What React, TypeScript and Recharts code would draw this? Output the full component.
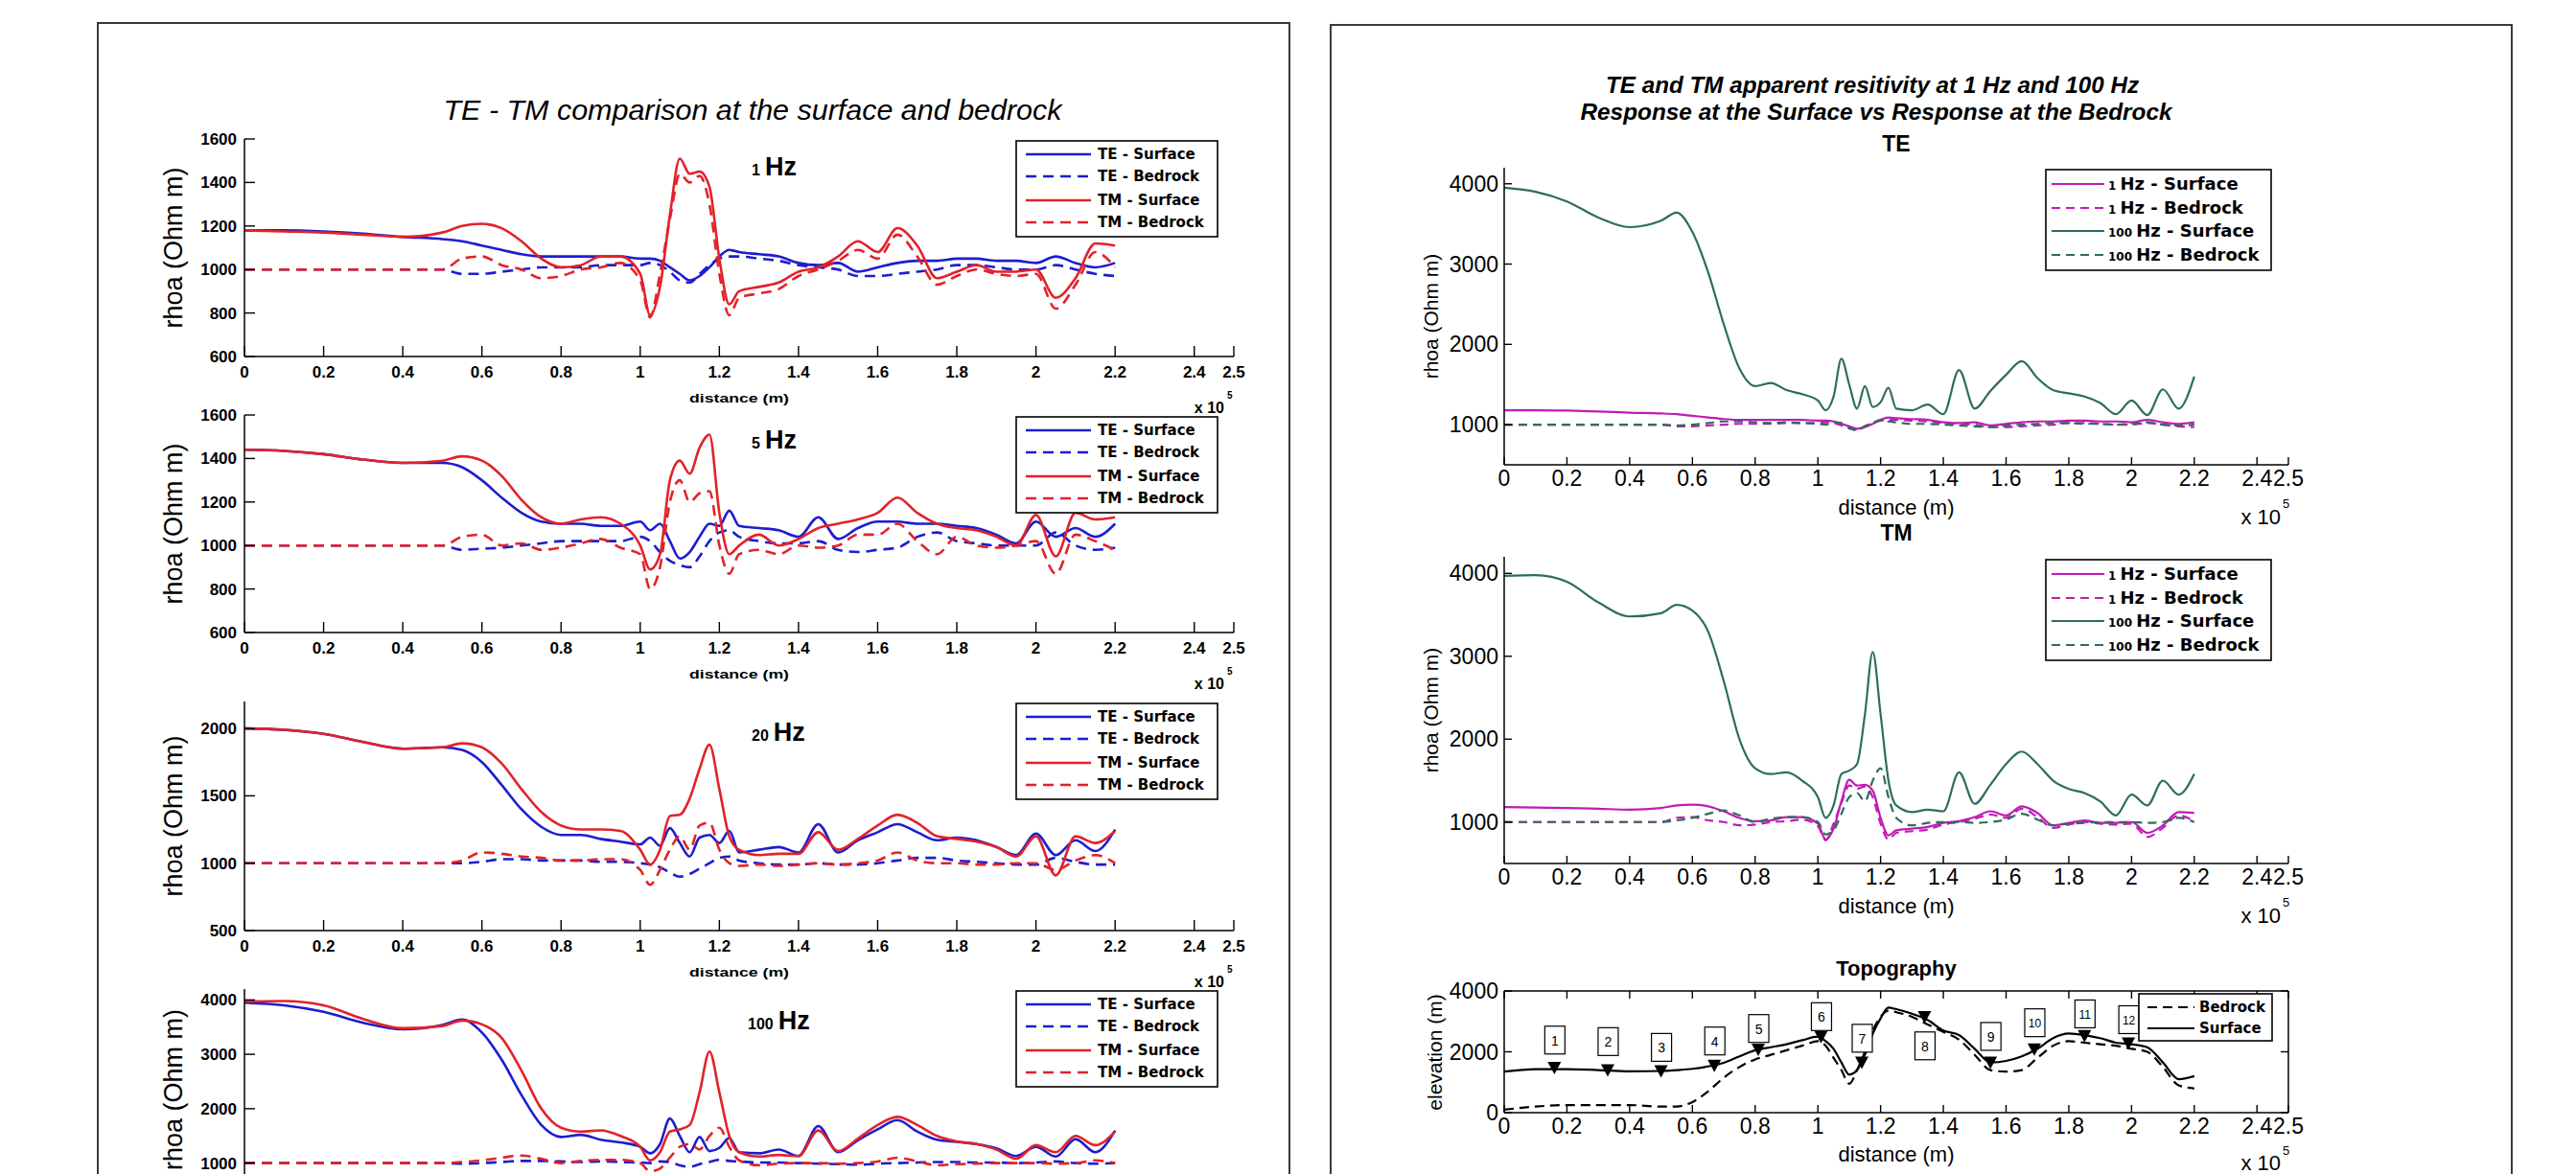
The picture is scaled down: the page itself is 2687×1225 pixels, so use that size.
import React from "react";
import { ComposedChart, Line, XAxis, YAxis, Scatter } from "recharts";

// distance along profile, in units of 1e5 m
const distance = [0, 0.1, 0.2, 0.3, 0.4, 0.5, 0.55, 0.6, 0.65, 0.7, 0.75, 0.8, 0.85, 0.9, 0.95, 1.0, 1.025, 1.05, 1.075, 1.1, 1.125, 1.15, 1.175, 1.2, 1.225, 1.25, 1.3, 1.35, 1.4, 1.45, 1.5, 1.55, 1.6, 1.65, 1.7, 1.75, 1.8, 1.85, 1.9, 1.95, 2.0, 2.05, 2.1, 2.15, 2.2];

// 1 Hz
const teSurf1 = [1180, 1180, 1175, 1165, 1150, 1140, 1130, 1110, 1090, 1070, 1060, 1060, 1060, 1060, 1060, 1050, 1050, 1040, 1010, 980, 950, 970, 1010, 1060, 1090, 1080, 1070, 1060, 1030, 1020, 1030, 990, 1010, 1030, 1040, 1040, 1050, 1050, 1040, 1040, 1030, 1060, 1030, 1010, 1030];
const teBed1 = [1000, 1000, 1000, 1000, 1000, 1000, 980, 980, 990, 1000, 1010, 1010, 1010, 1020, 1020, 1020, 1030, 1020, 990, 950, 940, 980, 1020, 1050, 1060, 1060, 1050, 1040, 1020, 1010, 1000, 970, 970, 980, 990, 1000, 1020, 1020, 1010, 1000, 1000, 1020, 1000, 980, 970];
const tmSurf1 = [1180, 1175, 1170, 1160, 1150, 1170, 1200, 1210, 1190, 1130, 1050, 1010, 1020, 1060, 1060, 980, 790, 920, 1250, 1510, 1440, 1450, 1380, 1050, 840, 900, 920, 940, 990, 1010, 1060, 1130, 1080, 1190, 1110, 960, 990, 1020, 990, 990, 1000, 870, 960, 1120, 1110];
const tmBed1 = [1000, 1000, 1000, 1000, 1000, 1000, 1050, 1060, 1020, 1000, 960, 970, 1000, 1010, 1030, 950, 780, 980, 1230, 1440, 1400, 1430, 1300, 980, 790, 870, 890, 910, 970, 1000, 1040, 1090, 1050, 1160, 1060, 930, 970, 1000, 980, 970, 980, 820, 930, 1080, 1010];

// 5 Hz
const teSurf5 = [1440, 1435, 1420, 1395, 1380, 1380, 1360, 1300, 1220, 1150, 1110, 1100, 1100, 1090, 1090, 1110, 1070, 1100, 1020, 940, 970, 1040, 1100, 1090, 1160, 1090, 1080, 1070, 1040, 1130, 1030, 1080, 1110, 1110, 1100, 1100, 1090, 1080, 1050, 1010, 1110, 1040, 1080, 1040, 1100];
const teBed5 = [1000, 1000, 1000, 1000, 1000, 1000, 980, 985, 990, 1000, 1010, 1020, 1020, 1020, 1020, 1040, 1020, 970, 930, 910, 900, 950, 1020, 1060, 1070, 1040, 1020, 1010, 1010, 1020, 980, 970, 980, 990, 1040, 1060, 1020, 1010, 1000, 1000, 1000, 1060, 1000, 980, 990];
const tmSurf5 = [1440, 1435, 1420, 1395, 1380, 1390, 1410, 1390, 1320, 1210, 1130, 1100, 1120, 1130, 1100, 1000, 890, 960, 1300, 1390, 1330, 1450, 1510, 1150, 960, 1000, 1050, 1000, 1030, 1080, 1100, 1120, 1150, 1220, 1150, 1100, 1080, 1070, 1040, 1000, 1140, 950, 1150, 1120, 1130];
const tmBed5 = [1000, 1000, 1000, 1000, 1000, 1000, 1040, 1050, 1000, 1010, 980, 990, 1010, 1030, 990, 960, 800, 900, 1200, 1300, 1200, 1240, 1250, 1000, 870, 960, 980, 960, 1000, 990, 1000, 1050, 1050, 1100, 1020, 960, 1040, 1000, 990, 1000, 1020, 870, 1050, 1020, 980];

// 20 Hz
const teSurf20 = [2000, 1990, 1960, 1900, 1850, 1860, 1840, 1750, 1580, 1400, 1270, 1210, 1210, 1180, 1160, 1140, 1190, 1130, 1260, 1150, 1050, 1190, 1210, 1150, 1240, 1080, 1100, 1120, 1080, 1290, 1080, 1170, 1230, 1290, 1230, 1170, 1190, 1170, 1120, 1060, 1220, 1060, 1170, 1090, 1250];
const teBed20 = [1000, 1000, 1000, 1000, 1000, 1000, 1000, 1010, 1030, 1030, 1020, 1020, 1020, 1010, 1010, 1000, 990, 970, 930, 900, 920, 960, 1000, 1040, 1050, 1020, 1000, 990, 990, 1000, 990, 990, 1000, 1020, 1040, 1040, 1020, 1010, 1000, 990, 990, 1040, 1010, 990, 990];
const tmSurf20 = [2000, 1990, 1960, 1900, 1850, 1860, 1890, 1860, 1740, 1550, 1380, 1280, 1250, 1250, 1240, 1100, 990, 1100, 1350, 1360, 1480, 1700, 1880, 1550, 1200, 1100, 1060, 1070, 1070, 1230, 1100, 1180, 1280, 1360, 1300, 1200, 1180, 1160, 1120, 1050, 1200, 910, 1200, 1150, 1240];
const tmBed20 = [1000, 1000, 1000, 1000, 1000, 1000, 1020, 1080, 1070, 1050, 1040, 1020, 1020, 1030, 1030, 950, 840, 950, 1100, 1200, 1100, 1280, 1300, 1100, 1000, 980, 990, 980, 990, 1000, 990, 1000, 1020, 1080, 1020, 1000, 1000, 990, 990, 1000, 1000, 950, 1020, 1060, 1000];

// 100 Hz
const teSurf100 = [3950, 3900, 3780, 3580, 3460, 3540, 3640, 3400, 2900, 2250, 1700, 1480, 1520, 1430, 1380, 1300, 1180, 1350, 1820, 1500, 1200, 1480, 1220, 1280, 1460, 1200, 1180, 1250, 1130, 1680, 1200, 1420, 1620, 1790, 1580, 1430, 1390, 1350, 1270, 1130, 1300, 1120, 1440, 1200, 1600];
const teBed100 = [1000, 1000, 1000, 1000, 1000, 1000, 990, 1000, 1020, 1040, 1040, 1030, 1020, 1030, 1020, 1010, 1000, 1030, 1020, 960, 930, 980, 1020, 1060, 1040, 1030, 1010, 1010, 1000, 990, 980, 970, 990, 1000, 1010, 1020, 1020, 1010, 1010, 1000, 1010, 1030, 1000, 990, 1000];
const tmSurf100 = [3970, 3980, 3900, 3650, 3480, 3520, 3620, 3550, 3300, 2700, 2000, 1650, 1580, 1600, 1500, 1300, 1050, 1200, 1580, 1620, 1700, 2300, 3050, 2300, 1500, 1200, 1120, 1150, 1130, 1600, 1220, 1450, 1700, 1850, 1700, 1500, 1400, 1350, 1250, 1080, 1330, 1200, 1500, 1330, 1580];
const tmBed100 = [1000, 1000, 1000, 1000, 1000, 1000, 1020, 1050, 1100, 1140, 1080, 1000, 1040, 1060, 1060, 1000, 850, 900, 1100, 1300, 1350, 1250, 1500, 1650, 1300, 1050, 960, 990, 1000, 1000, 990, 1000, 1030, 1100, 1030, 960, 980, 990, 1000, 1000, 1000, 990, 1000, 1050, 1000];

// topography (m)
const topoSurface = [1350, 1430, 1430, 1400, 1360, 1370, 1400, 1440, 1520, 1640, 1850, 2050, 2150, 2250, 2380, 2500, 2350, 2100, 1650, 1250, 1400, 1900, 2600, 3100, 3450, 3400, 3250, 3050, 2700, 2550, 2100, 1650, 1700, 1850, 2100, 2450, 2600, 2550, 2450, 2300, 2250, 2150, 1650, 1100, 1200];
const topoBedrock = [100, 200, 250, 250, 250, 200, 200, 350, 700, 1150, 1500, 1750, 1900, 2050, 2200, 2350, 2200, 1800, 1400, 950, 1400, 2000, 2700, 3150, 3350, 3300, 3150, 2900, 2650, 2400, 1900, 1400, 1350, 1400, 1800, 2200, 2350, 2300, 2250, 2200, 2100, 2000, 1500, 900, 800];

const stationNames = ["1", "2", "3", "4", "5", "6", "7", "8", "9", "10", "11", "12"];
const stationX = [0.16, 0.33, 0.5, 0.67, 0.81, 1.01, 1.14, 1.34, 1.55, 1.69, 1.85, 1.99];
const stationElev = [1480, 1400, 1370, 1550, 2080, 2500, 1650, 3150, 1650, 2090, 2530, 2280];
const stationTagElev = [2370, 2320, 2130, 2340, 2750, 3140, 2430, 2180, 2490, 2940, 3230, 3040];

const xTicks = [0, 0.2, 0.4, 0.6, 0.8, 1, 1.2, 1.4, 1.6, 1.8, 2, 2.2, 2.4, 2.5];

const BLUE = "#1d1dcf";
const RED = "#e2222a";
const MAGENTA = "#bf1cb6";
const TEAL = "#2e6d5c";
const FONT = "'Liberation Sans', Arial, Helvetica, sans-serif";
const WIDE = "'DejaVu Sans', Verdana, sans-serif";

type LineDef = { key: string; label: string; num?: string; values: number[]; color: string; dash?: string; w: number };
type FontSpec = { fontFamily: string; fontSize: number; fontWeight?: string | number };

const bottomTick = (m: number, len: number, font: FontSpec | null) => (p: any) => (
  <g>
    <line x1={p.x} x2={p.x} y1={p.y - m} y2={p.y - m - len} stroke="#000" strokeWidth={1.4} />
    {font && (
      <text x={p.x} y={p.y} dy="0.71em" textAnchor="middle" fill="#000" {...font}>
        {p.payload.value}
      </text>
    )}
  </g>
);
const leftTick = (m: number, len: number, font: FontSpec | null) => (p: any) => (
  <g>
    <line x1={p.x + m} x2={p.x + m + len} y1={p.y} y2={p.y} stroke="#000" strokeWidth={1.4} />
    {font && (
      <text x={p.x} y={p.y} dy="0.355em" textAnchor="end" fill="#000" {...font}>
        {p.payload.value}
      </text>
    )}
  </g>
);
const topTick = (m: number, len: number) => (p: any) => (
  <line x1={p.x} x2={p.x} y1={p.y + m} y2={p.y + m + len} stroke="#000" strokeWidth={1.4} />
);
const rightTick = (m: number, len: number) => (p: any) => (
  <line x1={p.x - m} x2={p.x - m - len} y1={p.y} y2={p.y} stroke="#000" strokeWidth={1.4} />
);

const Triangle = (p: any) => (
  <path d={`M${p.cx - 7},${p.cy - 6} L${p.cx + 7},${p.cy - 6} L${p.cx},${p.cy + 7} Z`} fill="#000" />
);
const StationTag = (p: any) => (
  <g>
    <rect x={p.cx - 10} y={p.cy - 15} width={21} height={29} fill="#fff" stroke="#000" strokeWidth={1.2} />
    <text x={p.cx + 0.5} y={p.cy} dy="0.35em" textAnchor="middle" fontSize={p.payload.name.length > 1 ? 12 : 14} fontFamily={FONT}>
      {p.payload.name}
    </text>
  </g>
);

type PlotProps = {
  left: number;
  top: number;
  width: number;
  height: number;
  yDomain: [number, number];
  yTicks: number[];
  lines: LineDef[];
  tickFont: FontSpec;
  xMargin: number;
  yMargin: number;
  tickLen: number;
  hideXLabels?: boolean;
  boxed?: boolean;
  stations?: boolean;
};

function Plot({ left, top, width, height, yDomain, yTicks, lines, tickFont, xMargin, yMargin, tickLen, hideXLabels, boxed, stations }: PlotProps) {
  const padTop = 12;
  const padRight = 16;
  const yW = 100;
  const xH = 40;
  const rows = distance.map((d, i) => {
    const r: Record<string, number> = { d };
    lines.forEach((l) => {
      r[l.key] = l.values[i];
    });
    return r;
  });
  const stationRows = stationX.map((d, i) => ({ d, elev: stationElev[i], tag: stationTagElev[i], name: stationNames[i] }));
  const axisLine = { stroke: "#000", strokeWidth: 1.5 };
  return (
    <div style={{ position: "absolute", left: left - yW, top: top - padTop }}>
      <ComposedChart
        width={yW + width + padRight}
        height={padTop + height + xH}
        data={rows}
        margin={boxed ? { top: 0, right: 0, bottom: 0, left: 0 } : { top: padTop, right: padRight, bottom: 0, left: 0 }}
      >
        <XAxis
          dataKey="d"
          type="number"
          domain={[0, 2.5]}
          ticks={xTicks}
          interval={0}
          height={xH}
          tickSize={0}
          tickMargin={xMargin}
          tickLine={false}
          axisLine={axisLine}
          tick={bottomTick(xMargin, tickLen, hideXLabels ? null : tickFont)}
          allowDataOverflow
        />
        <YAxis
          type="number"
          domain={yDomain}
          ticks={yTicks}
          interval={0}
          width={yW}
          tickSize={0}
          tickMargin={yMargin}
          tickLine={false}
          axisLine={axisLine}
          tick={leftTick(yMargin, tickLen, tickFont)}
          allowDataOverflow
        />
        {boxed && (
          <XAxis
            xAxisId="t"
            orientation="top"
            dataKey="d"
            type="number"
            domain={[0, 2.5]}
            ticks={xTicks}
            interval={0}
            height={padTop}
            tickSize={0}
            tickMargin={0}
            tickLine={false}
            axisLine={axisLine}
            tick={topTick(0, tickLen)}
            allowDataOverflow
          />
        )}
        {boxed && (
          <YAxis
            yAxisId="r"
            orientation="right"
            type="number"
            domain={yDomain}
            ticks={yTicks}
            interval={0}
            width={padRight}
            tickSize={0}
            tickMargin={0}
            tickLine={false}
            axisLine={axisLine}
            tick={rightTick(0, tickLen)}
            allowDataOverflow
          />
        )}
        {lines.map((l) => (
          <Line
            key={l.key}
            dataKey={l.key}
            type="monotone"
            stroke={l.color}
            strokeWidth={l.w}
            strokeDasharray={l.dash}
            dot={false}
            activeDot={false}
            isAnimationActive={false}
          />
        ))}
        {stations && <Scatter data={stationRows} dataKey="elev" shape={Triangle} isAnimationActive={false} />}
        {stations && <Scatter data={stationRows} dataKey="tag" shape={StationTag} isAnimationActive={false} />}
      </ComposedChart>
    </div>
  );
}

function LegendBox({ x, y, w, h, items, rowY, s1, s2, tx, fontSize, numSize }: any) {
  return (
    <g>
      <rect x={x} y={y} width={w} height={h} fill="#fff" stroke="#000" strokeWidth={1.6} />
      {items.map((it: LineDef, i: number) => (
        <g key={i}>
          <line x1={x + s1} x2={x + s2} y1={y + rowY[i]} y2={y + rowY[i]} stroke={it.color} strokeWidth={it.w} strokeDasharray={it.dash} />
          <text x={x + tx} y={y + rowY[i]} dy="0.36em" fontFamily={WIDE} fontWeight="bold" fontSize={fontSize} fill="#000">
            {it.num && <tspan fontSize={numSize}>{it.num} </tspan>}
            {it.label}
          </text>
        </g>
      ))}
    </g>
  );
}

const leftLines = (te: number[], teb: number[], tm: number[], tmb: number[]): LineDef[] => [
  { key: "teS", label: "TE - Surface", values: te, color: BLUE, w: 2.6 },
  { key: "teB", label: "TE - Bedrock", values: teb, color: BLUE, dash: "11 7", w: 2.6 },
  { key: "tmS", label: "TM - Surface", values: tm, color: RED, w: 2.6 },
  { key: "tmB", label: "TM - Bedrock", values: tmb, color: RED, dash: "11 7", w: 2.6 },
];

const rightLines = (s1: number[], b1: number[], s100: number[], b100: number[]): LineDef[] => [
  { key: "s1", num: "1", label: "Hz - Surface", values: s1, color: MAGENTA, w: 2.2 },
  { key: "b1", num: "1", label: "Hz - Bedrock", values: b1, color: MAGENTA, dash: "9 6", w: 2.2 },
  { key: "s100", num: "100", label: "Hz - Surface", values: s100, color: TEAL, w: 2.2 },
  { key: "b100", num: "100", label: "Hz - Bedrock", values: b100, color: TEAL, dash: "9 6", w: 2.2 },
];

const topoLines: LineDef[] = [
  { key: "bed", label: "Bedrock", values: topoBedrock, color: "#000", dash: "10 6", w: 2.2 },
  { key: "surf", label: "Surface", values: topoSurface, color: "#000", w: 2.2 },
];

const LX = 255;
const LW = 1032;
const RX = 1569;
const RW = 818;

const leftSubs = [
  { freq: "1", top: 145, height: 227, domain: [600, 1600] as [number, number], ticks: [600, 800, 1000, 1200, 1400, 1600], lines: leftLines(teSurf1, teBed1, tmSurf1, tmBed1), hzY: 183 },
  { freq: "5", top: 433, height: 227, domain: [600, 1600] as [number, number], ticks: [600, 800, 1000, 1200, 1400, 1600], lines: leftLines(teSurf5, teBed5, tmSurf5, tmBed5), hzY: 468 },
  { freq: "20", top: 732, height: 239, domain: [500, 2200] as [number, number], ticks: [500, 1000, 1500, 2000], lines: leftLines(teSurf20, teBed20, tmSurf20, tmBed20), hzY: 773 },
  { freq: "100", top: 1032, height: 210, domain: [500, 4200] as [number, number], ticks: [1000, 2000, 3000, 4000], lines: leftLines(teSurf100, teBed100, tmSurf100, tmBed100), hzY: 1074 },
];

const rightSubs = [
  { title: "TE", top: 175, height: 310, lines: rightLines(teSurf1, teBed1, teSurf100, teBed100), legendY: 177 },
  { title: "TM", top: 581, height: 320, lines: rightLines(tmSurf1, tmBed1, tmSurf100, tmBed100), legendY: 584 },
];

const leftTickFont: FontSpec = { fontFamily: FONT, fontSize: 17, fontWeight: "bold" };
const rightTickFont: FontSpec = { fontFamily: FONT, fontSize: 23 };

export default function App() {
  return (
    <div style={{ position: "relative", width: 2687, height: 1225, overflow: "hidden", background: "#fff" }}>
      <style>{"body{margin:0}"}</style>
      {leftSubs.map((s, i) => (
        <Plot
          key={"l" + i}
          left={LX}
          top={s.top}
          width={LW}
          height={s.height}
          yDomain={s.domain}
          yTicks={s.ticks}
          lines={s.lines}
          tickFont={leftTickFont}
          xMargin={10}
          yMargin={8}
          tickLen={11}
          hideXLabels={i === 3}
        />
      ))}
      {rightSubs.map((s, i) => (
        <Plot
          key={"r" + i}
          left={RX}
          top={s.top}
          width={RW}
          height={s.height}
          yDomain={[500, 4200]}
          yTicks={[1000, 2000, 3000, 4000]}
          lines={s.lines}
          tickFont={rightTickFont}
          xMargin={6}
          yMargin={6}
          tickLen={8}
        />
      ))}
      <Plot
        left={RX}
        top={1034}
        width={RW}
        height={127}
        yDomain={[0, 4000]}
        yTicks={[0, 2000, 4000]}
        lines={topoLines}
        tickFont={rightTickFont}
        xMargin={6}
        yMargin={6}
        tickLen={8}
        boxed
        stations
      />
      <svg width={2687} height={1225} style={{ position: "absolute", left: 0, top: 0, pointerEvents: "none" }}>
        <rect x={102} y={24} width={1243} height={1400} fill="none" stroke="#3a3a3a" strokeWidth={2} />
        <rect x={1388} y={26} width={1232} height={1400} fill="none" stroke="#3a3a3a" strokeWidth={2} />

        <text x={785} y={125} textAnchor="middle" fontFamily={FONT} fontStyle="italic" fontSize={29} textLength={645} lengthAdjust="spacingAndGlyphs">
          TE - TM comparison at the surface and bedrock
        </text>
        {leftSubs.map((s, i) => {
          const bottom = s.top + s.height;
          const mid = s.top + s.height / 2;
          return (
            <g key={"lt" + i}>
              <text x={181} y={mid} transform={`rotate(-90 181 ${mid})`} dy="0.35em" textAnchor="middle" fontFamily={FONT} fontSize={27}>
                rhoa (Ohm m)
              </text>
              {i < 3 && (
                <g>
                  <text x={LX + LW / 2} y={bottom + 48} textAnchor="middle" fontFamily={FONT} fontWeight="bold" fontSize={13} textLength={104} lengthAdjust="spacingAndGlyphs">
                    distance (m)
                  </text>
                  <text x={1277} y={bottom + 59} textAnchor="end" fontFamily={FONT} fontWeight="bold" fontSize={16}>
                    x 10
                  </text>
                  <text x={1280} y={bottom + 44} fontFamily={FONT} fontWeight="bold" fontSize={10}>
                    5
                  </text>
                </g>
              )}
              <text x={s.freq.length > 2 ? 780 : 784} y={s.hzY} fontFamily={FONT} fontWeight="bold">
                <tspan fontSize={16}>{s.freq}</tspan>
                <tspan fontSize={27} dx={5}>Hz</tspan>
              </text>
              <LegendBox x={1060} y={s.top + 2} w={210} h={100} items={s.lines} rowY={[14, 37, 62, 85]} s1={10} s2={78} tx={85} fontSize={15} />
            </g>
          );
        })}

        <text x={1953} y={97} textAnchor="middle" fontFamily={FONT} fontStyle="italic" fontWeight="bold" fontSize={24} textLength={556} lengthAdjust="spacingAndGlyphs">
          TE and TM apparent resitivity at 1 Hz and 100 Hz
        </text>
        <text x={1957} y={125} textAnchor="middle" fontFamily={FONT} fontStyle="italic" fontWeight="bold" fontSize={24} textLength={617} lengthAdjust="spacingAndGlyphs">
          Response at the Surface vs Response at the Bedrock
        </text>
        {rightSubs.map((s, i) => {
          const bottom = s.top + s.height;
          const mid = s.top + s.height / 2;
          return (
            <g key={"rt" + i}>
              <text x={RX + RW / 2} y={s.top - 17} textAnchor="middle" fontFamily={FONT} fontWeight="bold" fontSize={23}>
                {s.title}
              </text>
              <text x={1493} y={mid} transform={`rotate(-90 1493 ${mid})`} dy="0.35em" textAnchor="middle" fontFamily={FONT} fontSize={21}>
                rhoa (Ohm m)
              </text>
              <text x={RX + RW / 2} y={bottom + 52} textAnchor="middle" fontFamily={FONT} fontSize={22}>
                distance (m)
              </text>
              <text x={2379} y={bottom + 62} textAnchor="end" fontFamily={FONT} fontSize={22}>
                x 10
              </text>
              <text x={2381} y={bottom + 45} fontFamily={FONT} fontSize={13}>
                5
              </text>
              <LegendBox x={2134} y={s.legendY} w={235} h={105} items={s.lines} rowY={[15, 40, 64, 89]} s1={6} s2={61} tx={65} fontSize={18} numSize={12} />
            </g>
          );
        })}

        <text x={RX + RW / 2} y={1018} textAnchor="middle" fontFamily={FONT} fontWeight="bold" fontSize={22}>
          Topography
        </text>
        <text x={1497} y={1098} transform="rotate(-90 1497 1098)" dy="0.35em" textAnchor="middle" fontFamily={FONT} fontSize={21}>
          elevation (m)
        </text>
        <text x={RX + RW / 2} y={1212} textAnchor="middle" fontFamily={FONT} fontSize={22}>
          distance (m)
        </text>
        <text x={2379} y={1221} textAnchor="end" fontFamily={FONT} fontSize={22}>
          x 10
        </text>
        <text x={2381} y={1205} fontFamily={FONT} fontSize={13}>
          5
        </text>
        <LegendBox x={2231} y={1037} w={139} h={49} items={topoLines} rowY={[14, 36]} s1={9} s2={58} tx={63} fontSize={15} />
      </svg>
    </div>
  );
}
